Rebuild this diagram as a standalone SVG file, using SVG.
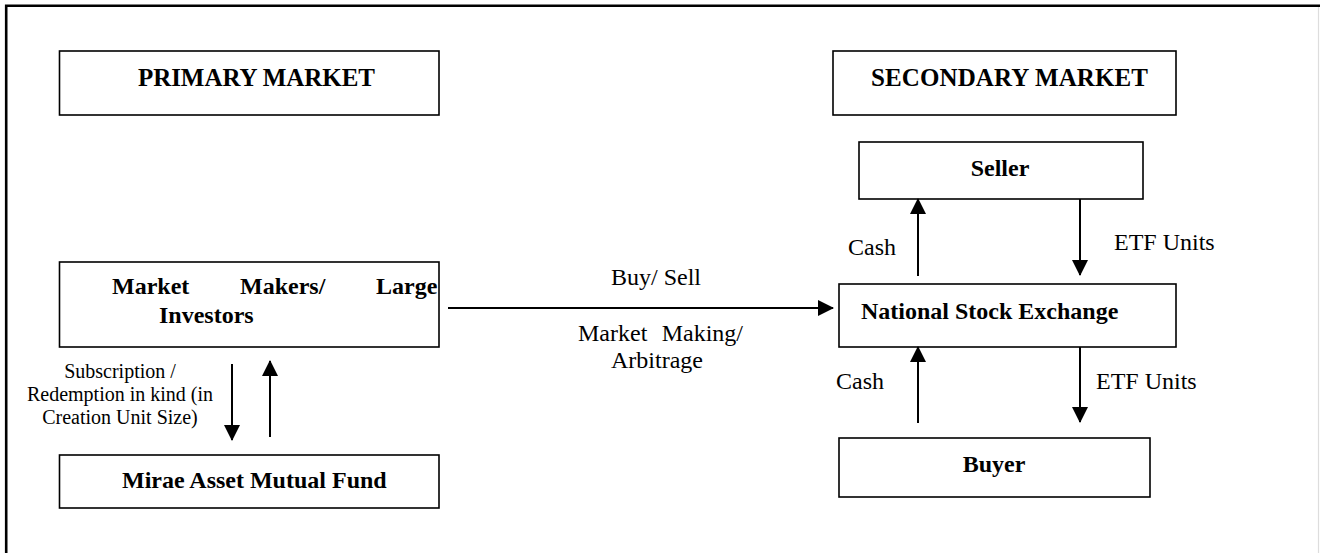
<svg xmlns="http://www.w3.org/2000/svg" width="1320" height="553" viewBox="0 0 1320 553">
<defs>
<style>
.box{fill:#fff;stroke:#000;stroke-width:1.6}
.b{font-family:"Liberation Serif","Times New Roman",serif;font-weight:bold;font-size:24px;fill:#000}
.h{font-family:"Liberation Serif","Times New Roman",serif;font-weight:bold;font-size:25px;fill:#000}
.r{font-family:"Liberation Serif","Times New Roman",serif;font-size:24px;fill:#000}
.s{font-family:"Liberation Serif","Times New Roman",serif;font-size:20px;fill:#000}
.ln{stroke:#000;stroke-width:2;fill:none}
</style>
<marker id="ah" markerWidth="16" markerHeight="16" viewBox="0 0 16 16" refX="15" refY="8" orient="auto" markerUnits="userSpaceOnUse">
<path d="M0,0 L16,8 L0,16 Z" fill="#000"/>
</marker>
</defs>
<rect width="1320" height="553" fill="#fff"/>
<path d="M6.2,553 V5.8 H1320" fill="none" stroke="#000" stroke-width="2.6"/>
<line x1="1318.5" y1="7" x2="1318.5" y2="553" stroke="#ddd" stroke-width="1.2"/>

<g id="primary-market">
<rect class="box" x="59.5" y="51" width="379.5" height="64"/>
<text class="h" x="138" y="86" textLength="237">PRIMARY MARKET</text>
</g>
<g id="market-makers">
<rect class="box" x="59.5" y="262" width="379.5" height="85"/>
<text class="b" x="112" y="294">Market</text>
<text class="b" x="240" y="294">Makers/</text>
<text class="b" x="376" y="294">Large</text>
<text class="b" x="159" y="323">Investors</text>
</g>
<g id="mirae">
<rect class="box" x="59.5" y="455" width="379.5" height="53"/>
<text class="b" x="122" y="488">Mirae Asset Mutual Fund</text>
</g>
<g id="secondary-market">
<rect class="box" x="833" y="51" width="343" height="64"/>
<text class="h" x="871" y="86" textLength="277">SECONDARY MARKET</text>
</g>
<g id="seller">
<rect class="box" x="859" y="142" width="284" height="57"/>
<text class="b" x="1000" y="176" text-anchor="middle">Seller</text>
</g>
<g id="nse">
<rect class="box" x="839" y="284" width="337" height="63"/>
<text class="b" x="861" y="319">National Stock Exchange</text>
</g>
<g id="buyer">
<rect class="box" x="839" y="438" width="311" height="59"/>
<text class="b" x="994" y="472" text-anchor="middle">Buyer</text>
</g>

<g id="connectors">
<line class="ln" x1="232" y1="364" x2="232" y2="440" marker-end="url(#ah)"/>
<line class="ln" x1="270" y1="437" x2="270" y2="361" marker-end="url(#ah)"/>
<line class="ln" x1="448" y1="308" x2="833" y2="308" marker-end="url(#ah)"/>
<line class="ln" x1="918" y1="276" x2="918" y2="199" marker-end="url(#ah)"/>
<line class="ln" x1="1080" y1="199" x2="1080" y2="275" marker-end="url(#ah)"/>
<line class="ln" x1="918" y1="423" x2="918" y2="347" marker-end="url(#ah)"/>
<line class="ln" x1="1080" y1="347" x2="1080" y2="422" marker-end="url(#ah)"/>
<text class="s" x="120" y="378" text-anchor="middle">Subscription /</text>
<text class="s" x="120" y="401" text-anchor="middle">Redemption in kind (in</text>
<text class="s" x="120" y="424" text-anchor="middle">Creation Unit Size)</text>
<text class="r" x="656" y="285" text-anchor="middle">Buy/ Sell</text>
<text class="r" x="578" y="341">Market</text>
<text class="r" x="743" y="341" text-anchor="end">Making/</text>
<text class="r" x="657" y="368" text-anchor="middle">Arbitrage</text>
<text class="r" x="848" y="255">Cash</text>
<text class="r" x="1114" y="250">ETF Units</text>
<text class="r" x="836" y="389">Cash</text>
<text class="r" x="1096" y="389">ETF Units</text>
</g>
</svg>
